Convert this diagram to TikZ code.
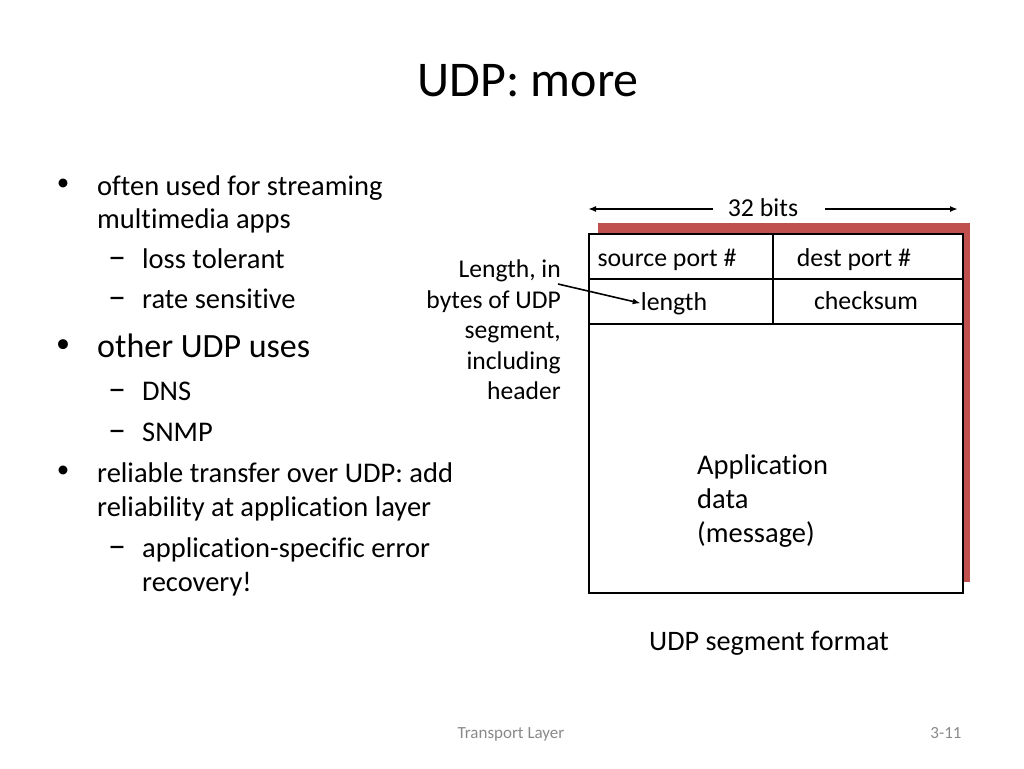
\documentclass[tikz,border=0pt]{standalone}
\usepackage{fontspec}
\setmainfont[Ligatures={NoCommon}]{Carlito}
\usetikzlibrary{arrows.meta}
\definecolor{shadowred}{RGB}{192,80,77}
\definecolor{footgray}{RGB}{137,137,137}
\begin{document}
\begin{tikzpicture}[x=1pt,y=-1pt,
  txt/.style={inner sep=0pt, anchor=base west},
  body/.style={txt, font=\fontsize{28.5}{34}\selectfont},
  bigbody/.style={txt, font=\fontsize{34}{40}\selectfont},
  bul/.style={inner sep=0pt, anchor=base, font=\fontsize{25}{29}\selectfont},
  dsh/.style={inner sep=0pt, anchor=base west, font=\fontsize{36}{42}\selectfont},
  lbl/.style={inner sep=0pt, anchor=base, font=\fontsize{25.8}{31}\selectfont},
  side/.style={inner sep=0pt, anchor=base east, font=\fontsize{25.6}{31}\selectfont},
  foot/.style={inner sep=0pt, anchor=base, font=\fontsize{17}{20}\selectfont, text=footgray},
  arr/.style={line width=1.6pt, -{Latex[length=8pt,width=6pt]}}
]
\useasboundingbox (0,0) rectangle (1024,768);

% title
\node[inner sep=0pt, anchor=base, font=\fontsize{50}{60}\selectfont] (title) at (528,96) {UDP: more};

% bullets
\node[bul] (b1) at (63,190) {•};
\node[body] (t1a) at (97,195) {often used for streaming};
\node[body] (t1b) at (97,228) {multimedia apps};
\node[dsh] (d1) at (108,268) {–};
\node[body] (s1) at (142,268) {loss tolerant};
\node[dsh] (d2) at (108,308) {–};
\node[body] (s2) at (142,308) {rate sensitive};
\node[bul, font=\fontsize{28}{32}\selectfont] (b2) at (63,352) {•};
\node[bigbody] (t2) at (97,357) {other UDP uses};
\node[dsh] (d3) at (108,400) {–};
\node[body] (s3) at (142,400) {DNS};
\node[dsh] (d4) at (108,441) {–};
\node[body] (s4) at (142,441) {SNMP};
\node[bul] (b3) at (63,477) {•};
\node[body] (t3a) at (97,482) {reliable transfer over UDP: add};
\node[body] (t3b) at (97,516) {reliability at application layer};
\node[dsh] (d5) at (108,557) {–};
\node[body] (s5a) at (142,557) {application-specific error};
\node[body] (s5b) at (142,591) {recovery!};

% segment diagram
\fill[shadowred] (598,223) rectangle (970,582);
\draw[line width=2pt, fill=white] (589,234) rectangle (963,593);
\draw[line width=2pt] (589,279) -- (963,279);
\draw[line width=2pt] (589,324) -- (963,324);
\draw[line width=2pt] (773,234) -- (773,324);

\node[lbl] (src) at (667,266) {source port \#};
\node[lbl] (dst) at (854,266) {dest port \#};
\node[lbl] (len) at (674,310) {length};
\node[lbl] (chk) at (866,309) {checksum};

\node[lbl] (bits) at (763,216) {32 bits};
\coordinate (bl) at (713,209);
\coordinate (blt) at (588,209);
\coordinate (br) at (825,209);
\coordinate (brt) at (958,209);
\draw[arr] (bl) -- (blt);
\draw[arr] (br) -- (brt);

\node[side] (l1) at (561,277) {Length, in};
\node[side] (l2) at (561,308) {bytes of UDP};
\node[side] (l3) at (561,338) {segment,};
\node[side] (l4) at (561,369) {including};
\node[side] (l5) at (561,399) {header};
\coordinate (la) at (558,284);
\draw[arr] (la) -- (len.west);

\node[body] (a1) at (697,474) {Application};
\node[body] (a2) at (697,508) {data};
\node[body] (a3) at (697,542) {(message)};

\node[inner sep=0pt, anchor=base, font=\fontsize{28.2}{34}\selectfont] (cap) at (769,650) {UDP segment format};

\node[foot] (f1) at (511,738) {Transport Layer};
\node[foot] (f2) at (946,738) {3-11};
\end{tikzpicture}
\end{document}
